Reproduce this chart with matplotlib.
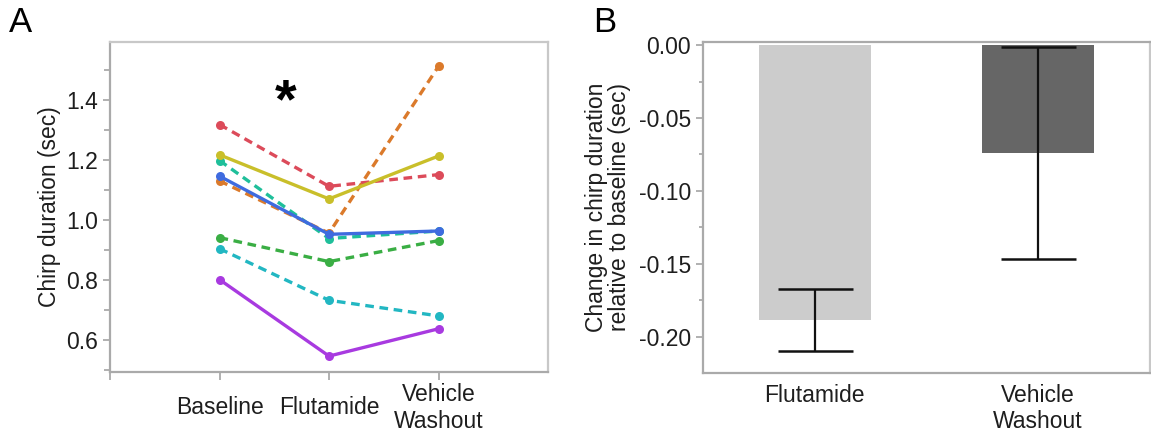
import matplotlib
matplotlib.use('Agg')
import matplotlib.pyplot as plt
from matplotlib.ticker import MultipleLocator

plt.rcParams['font.family'] = ['Liberation Sans', 'DejaVu Sans']
plt.rcParams['font.size'] = 16.5

# panel A: per-fish chirp duration (sec)
conditions = ['Baseline', 'Flutamide', 'Vehicle\nWashout']
fish_red = [1.318, 1.112, 1.151]
fish_yellow = [1.217, 1.070, 1.213]
fish_teal = [1.198, 0.938, 0.963]
fish_blue = [1.146, 0.952, 0.963]
fish_orange = [1.130, 0.956, 1.512]
fish_green = [0.941, 0.861, 0.931]
fish_cyan = [0.904, 0.732, 0.680]
fish_purple = [0.801, 0.546, 0.637]

# panel B: change relative to baseline
groups = ['Flutamide', 'Vehicle\nWashout']
change_mean = [-0.1886, -0.0740]
change_err = [0.021, 0.0724]

GRAY = '#aaaaaa'
LIGHT = '#c8c8c8'
TXT = '#1e1e1e'

fig = plt.figure(figsize=(11.51, 4.33), dpi=100)

# ---- A ----
ax = fig.add_axes([0.0956, 0.1416, 0.3805, 0.762])
xs = [1, 2, 3]
series = [
    (fish_red, '#dc4b5a', 'dash'),
    (fish_teal, '#1fbf9a', 'dash'),
    (fish_orange, '#db7a2b', 'dash'),
    (fish_green, '#3aae44', 'dash'),
    (fish_cyan, '#22b7c2', 'dash'),
    (fish_yellow, '#c9bf2a', 'solid'),
    (fish_blue, '#3f6bdf', 'solid'),
    (fish_purple, '#a83ae0', 'solid'),
]
for vals, col, st in series:
    ls = (0, (2.6, 1.7)) if st == 'dash' else '-'
    ax.plot(xs, vals, linestyle=ls, color=col, lw=2.4, marker='o',
            markersize=6.5, markeredgewidth=0)
ax.text(1.6, 1.39, '*', fontsize=40, fontweight='bold', ha='center', va='center')
ax.set_xlim(0, 4)
ax.set_ylim(0.494, 1.594)
ax.set_xticks([0, 1, 2, 3])
ax.set_xticklabels([''] + conditions, va='center')
ax.set_yticks([0.6, 0.8, 1.0, 1.2, 1.4])
ax.yaxis.set_minor_locator(MultipleLocator(0.1))
ax.set_ylabel('Chirp duration (sec)', color=TXT, labelpad=4)
ax.tick_params(axis='x', colors=GRAY, labelcolor=TXT, length=6, width=1.3, pad=20)
ax.tick_params(axis='y', which='both', colors=GRAY, labelcolor=TXT, length=5, width=1.3)
ax.tick_params(axis='y', which='minor', length=4)
for s in ('left', 'bottom'):
    ax.spines[s].set_color(GRAY)
    ax.spines[s].set_linewidth(1.6)
for s in ('top', 'right'):
    ax.spines[s].set_color(LIGHT)
    ax.spines[s].set_linewidth(1.6)
fig.text(0.008, 0.948, 'A', fontsize=25, color='black', va='center')

# ---- B ----
bx = fig.add_axes([0.6108, 0.1393, 0.3882, 0.7644])
bx.bar([0, 1], change_mean, width=0.5, color=['#cccccc', '#666666'], zorder=1)
bx.errorbar([0, 1], change_mean, yerr=change_err, fmt='none', ecolor='#111111',
            elinewidth=1.6, capsize=27, capthick=1.8, zorder=2)
bx.set_xlim(-0.5, 1.5)
bx.set_ylim(-0.2247, 0.0023)
bx.set_yticks([0.0, -0.05, -0.10, -0.15, -0.20])
bx.set_yticklabels(['0.00', '-0.05', '-0.10', '-0.15', '-0.20'])
bx.yaxis.set_minor_locator(MultipleLocator(0.025))
bx.set_xticks([0, 1])
bx.set_xticklabels(groups)
bx.set_ylabel('Change in chirp duration\nrelative to baseline (sec)', color=TXT,
              labelpad=6, linespacing=1.0)
bx.tick_params(axis='x', length=0, labelcolor=TXT, pad=8)
bx.tick_params(axis='y', which='both', colors=GRAY, labelcolor=TXT, length=5, width=1.3)
bx.tick_params(axis='y', which='minor', length=3)
for s in bx.spines.values():
    s.set_color(GRAY)
    s.set_linewidth(1.6)
bx.spines['right'].set_color(LIGHT)
fig.text(0.515, 0.948, 'B', fontsize=25, color='black', va='center')

fig.savefig('out.png', dpi=100)
